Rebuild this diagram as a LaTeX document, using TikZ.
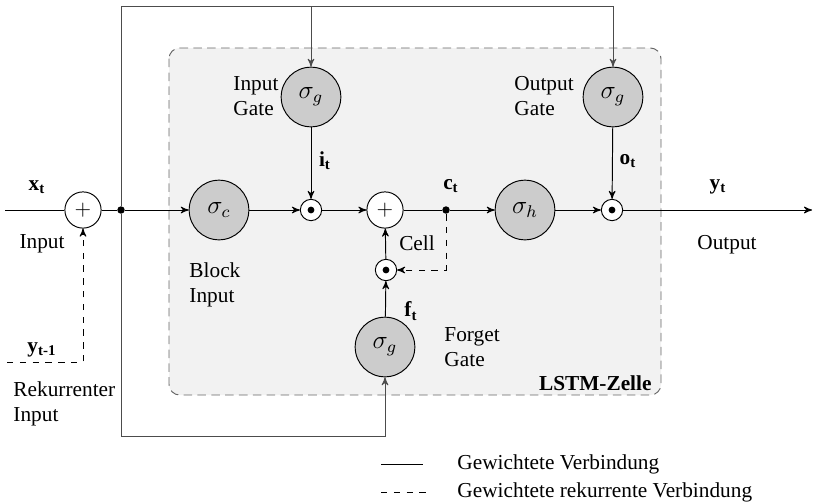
\documentclass[tikz,border=0pt]{standalone}
\usepackage{fontspec}
\setmainfont{Liberation Serif}
\usepackage{tikz}
\usetikzlibrary{arrows, positioning, calc}
\usepackage{xcolor}

\tikzset{
	gate/.style = {circle, draw, fill = black!20, minimum size = 28pt, inner sep = 0pt, font = \large},
	sumnode/.style = {circle, draw, fill = white, minimum size = 17pt, inner sep = 0pt},
	prodnode/.style = {circle, draw, fill = white, minimum size = 10pt, inner sep = 0pt,
		path picture = {\fill[black] (path picture bounding box.center) circle (1.6pt);}},
	joint/.style = {circle, fill, minimum size = 3.5pt, inner sep = 0pt},
	feedback/.style = {draw = black!70},
	txt/.style = {inner sep = 0pt, align = left}
}

\begin{document}
\begin{tikzpicture}[x = 0.0165cm, y = -0.0165cm, >=stealth', line width = 0.45pt]
	\useasboundingbox (0, 0) rectangle (815, 501);

	% LSTM cell
	\draw[draw = black!60, fill = black!5, rounded corners = 5pt, dash pattern = on 4pt off 2.5pt]
		(169, 48) rectangle (661, 395);
	\node[txt, anchor = east] (cellname) at (652, 383) {\textbf{LSTM-Zelle}};

	\draw (83, 210) node[sumnode] (plus1) {$+$}
	(121, 210) node[joint] (junc) {}
	(219, 210) node[gate] (blockin) {$\sigma_c$}
	(311, 97) node[gate] (ingate) {$\sigma_g$}
	(311, 210) node[prodnode] (multin) {}
	(385, 210) node[sumnode] (plus2) {$+$}
	(446, 210) node[joint] (cdot) {}
	(386, 270) node[prodnode] (multf) {}
	(385, 347) node[gate] (forgate) {$\sigma_g$}
	(525, 210) node[gate] (sigh) {$\sigma_h$}
	(613, 97) node[gate] (outgate) {$\sigma_g$}
	(612, 210) node[prodnode] (multout) {};

	\coordinate (xin) at (5, 210);
	\coordinate (yout) at (812, 210);
	\coordinate (yin) at (7, 362);
	\coordinate (top) at (121, 6);
	\coordinate (bot) at (121, 436);

	% main path
	\draw (xin) -- (plus1);
	\draw (plus1) -- (junc);
	\draw[->] (junc) -- (blockin);
	\draw[->] (blockin) -- (multin);
	\draw[->] (multin) -- (plus2);
	\draw (plus2) -- (cdot);
	\draw[->] (cdot) -- (sigh);
	\draw[->] (sigh) -- (multout);
	\draw[->] (multout) -- (yout);

	% gates
	\draw[->] (ingate) -- (multin);
	\draw[->] (outgate) -- (multout);
	\draw[->] (forgate) -- (multf);
	\draw[->] (multf) -- (plus2);
	\draw[dashed, ->] (cdot) -- (cdot |- multf) -- (multf);

	% feedback to the gates
	\draw[feedback, ->] (junc) -- (top) -| (outgate);
	\draw[feedback, ->] (top -| ingate) -- (ingate);
	\draw[feedback, ->] (junc) -- (bot) -| (forgate);

	% recurrent input
	\draw[dashed, ->] (yin) -- (yin -| plus1) -- (plus1);

	% labels
	\node[txt] (xlab) at (37, 187) {\textbf{x}\textsubscript{\textbf{t}}};
	\node[txt] (inlab) at (42, 244) {Input};
	\node[txt] (ylab) at (42, 350) {\textbf{y}\textsubscript{\textbf{t-1}}};
	\node[txt, anchor = west] (reclab) at (13, 404) {Rekurrenter\\Input};
	\node[txt, anchor = west] (inglab) at (233, 96) {Input\\Gate};
	\node[txt, anchor = west] (outglab) at (514, 96) {Output\\Gate};
	\node[txt, anchor = west] (blocklab) at (189, 285) {Block\\Input};
	\node[txt, anchor = west] (forglab) at (444, 347) {Forget\\Gate};
	\node[txt] (celllab) at (417, 243) {Cell};
	\node[txt] (ilab) at (325, 161) {\textbf{i}\textsubscript{\textbf{t}}};
	\node[txt] (olab) at (628, 161) {\textbf{o}\textsubscript{\textbf{t}}};
	\node[txt] (clab) at (451, 186) {\textbf{c}\textsubscript{\textbf{t}}};
	\node[txt] (flab) at (411, 311) {\textbf{f}\textsubscript{\textbf{t}}};
	\node[txt] (youtlab) at (718, 187) {\textbf{y}\textsubscript{\textbf{t}}};
	\node[txt] (outlab) at (727, 245) {Output};

	% legend
	\coordinate (lsa) at (381, 464);
	\coordinate (lsb) at (423, 464);
	\coordinate (lda) at (381, 492);
	\coordinate (ldb) at (430, 492);
	\draw (lsa) -- (lsb);
	\draw[dashed] (lda) -- (ldb);
	\node[txt, anchor = west] (leg1) at (457, 464) {Gewichtete Verbindung};
	\node[txt, anchor = west] (leg2) at (457, 492) {Gewichtete rekurrente Verbindung};
\end{tikzpicture}
\end{document}
